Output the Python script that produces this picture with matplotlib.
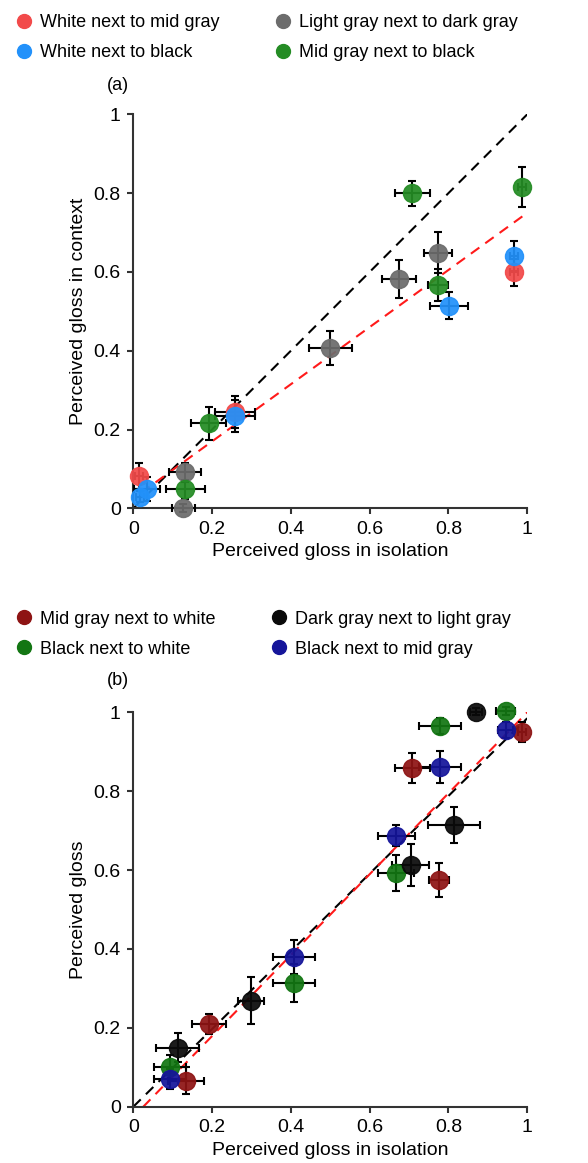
import numpy as np
import matplotlib
matplotlib.use("Agg")
import matplotlib.pyplot as plt
from matplotlib.lines import Line2D

plt.rcParams['font.family'] = ['Liberation Sans', 'DejaVu Sans']

# ---------------- datos panel (a) ----------------
nombres_a = ["White next to mid gray", "White next to black",
             "Light gray next to dark gray", "Mid gray next to black"]
colores_a = ["#F24A4A", "#2291FA", "#6C6C6C", "#248C24"]

x_a = [
    [0.014, 0.258, 0.967],
    [0.017, 0.034, 0.258, 0.801, 0.967],
    [0.131, 0.127, 0.500, 0.675, 0.774],
    [0.132, 0.191, 0.708, 0.774, 0.986],
]
y_a = [
    [0.083, 0.245, 0.599],
    [0.030, 0.049, 0.234, 0.514, 0.641],
    [0.091, 0.000, 0.406, 0.582, 0.649],
    [0.048, 0.216, 0.800, 0.567, 0.816],
]
xerr_a = [
    [0.010, 0.050, 0.010],
    [0.010, 0.033, 0.050, 0.048, 0.010],
    [0.040, 0.030, 0.055, 0.043, 0.035],
    [0.049, 0.044, 0.044, 0.025, 0.010],
]
yerr_a = [
    [0.033, 0.040, 0.035],
    [0.015, 0.030, 0.040, 0.034, 0.038],
    [0.025, 0.010, 0.043, 0.049, 0.052],
    [0.025, 0.042, 0.032, 0.040, 0.050],
]
# recta de regresion (rojo) y diagonal (negro)
reg_a = (0.025, 0.725)   # intercepto, pendiente
rango_reg_a = (0.02, 1.0)
diag_a = (0.0, 1.0)

# ---------------- datos panel (b) ----------------
nombres_b = ["Mid gray next to white", "Black next to white",
             "Dark gray next to light gray", "Black next to mid gray"]
colores_b = ["#8E1414", "#137613", "#0A0A0A", "#15159A"]

x_b = [
    [0.133, 0.192, 0.708, 0.776, 0.986],
    [0.093, 0.408, 0.667, 0.778, 0.945],
    [0.113, 0.298, 0.704, 0.815, 0.870],
    [0.093, 0.408, 0.667, 0.778, 0.945],
]
y_b = [
    [0.066, 0.209, 0.860, 0.576, 0.951],
    [0.101, 0.314, 0.593, 0.965, 1.003],
    [0.150, 0.269, 0.613, 0.714, 1.002],
    [0.070, 0.380, 0.687, 0.862, 0.955],
]
xerr_b = [
    [0.046, 0.043, 0.044, 0.025, 0.010],
    [0.040, 0.054, 0.045, 0.054, 0.025],
    [0.055, 0.033, 0.047, 0.066, 0.015],
    [0.040, 0.054, 0.047, 0.054, 0.020],
]
yerr_b = [
    [0.035, 0.025, 0.038, 0.043, 0.025],
    [0.030, 0.049, 0.046, 0.020, 0.010],
    [0.036, 0.060, 0.054, 0.046, 0.010],
    [0.025, 0.043, 0.027, 0.040, 0.020],
]
reg_b = (-0.026, 1.026)
rango_reg_b = (0.025, 1.0)
diag_b = (0.0, 0.985)

ticks = [0, 0.2, 0.4, 0.6, 0.8, 1]
tick_labels = ["0", "0.2", "0.4", "0.6", "0.8", "1"]


def panel(ax, nombres, colores, xs, ys, xes, yes, reg, rango, diag, ylabel):
    # lineas de referencia
    xx = np.array([0, 1])
    ax.plot(xx, diag[0] + diag[1] * xx, ls=(0, (5, 3.5)), color="black", lw=1.5, zorder=1)
    xr = np.array(rango)
    ax.plot(xr, reg[0] + reg[1] * xr, ls=(0, (5, 3.5)), color="#FF1A1A", lw=1.5, zorder=2)

    handles = []
    for nom, col, x, y, xe, ye in zip(nombres, colores, xs, ys, xes, yes):
        ax.errorbar(x, y, xerr=xe, yerr=ye, fmt="none", ecolor="black",
                    elinewidth=1.5, capsize=3, capthick=1.5, zorder=3, clip_on=False)
        ax.plot(x, y, "o", ms=13, color=col, mec=col, alpha=0.93, zorder=4, clip_on=False)
        handles.append(Line2D([], [], marker="o", ls="none", ms=10, color=col, label=nom))

    ax.set_xlim(0, 1)
    ax.set_ylim(0, 1)
    ax.set_xticks(ticks)
    ax.set_xticklabels(tick_labels)
    ax.set_yticks(ticks)
    ax.set_yticklabels(tick_labels)
    for s in ["top", "right"]:
        ax.spines[s].set_visible(False)
    for s in ["left", "bottom"]:
        ax.spines[s].set_linewidth(1.5)
        ax.spines[s].set_color("#333333")
    ax.tick_params(direction="out", length=4, width=1.5, color="#333333",
                   labelsize=14)
    ax.tick_params(axis="x", pad=5)
    ax.tick_params(axis="y", pad=5)
    ax.set_xlabel("Perceived gloss in isolation", fontsize=14, labelpad=4)
    ax.set_ylabel(ylabel, fontsize=14, labelpad=5)
    return handles


fig = plt.figure(figsize=(5.88, 11.63), dpi=100)
ax_a = fig.add_axes([0.2267, 0.5629, 0.670, 0.3388])
ax_b = fig.add_axes([0.2267, 0.0484, 0.670, 0.3391])

h_a = panel(ax_a, nombres_a, colores_a, x_a, y_a, xerr_a, yerr_a,
            reg_a, rango_reg_a, diag_a, "Perceived gloss in context")
h_b = panel(ax_b, nombres_b, colores_b, x_b, y_b, xerr_b, yerr_b,
            reg_b, rango_reg_b, diag_b, "Perceived gloss")

for h, ytop in [(h_a, 1.002), (h_b, 0.489)]:
    fig.legend(handles=h, loc="upper left", bbox_to_anchor=(-0.005, ytop), ncol=2,
               frameon=False, fontsize=13, handletextpad=0.3, columnspacing=2.9,
               labelspacing=0.73, handlelength=1.2)

fig.text(0.2007, 0.9269, "(a)", fontsize=13, ha="center", va="center")
fig.text(0.2007, 0.4153, "(b)", fontsize=13, ha="center", va="center")

fig.savefig("out.png", dpi=100)
